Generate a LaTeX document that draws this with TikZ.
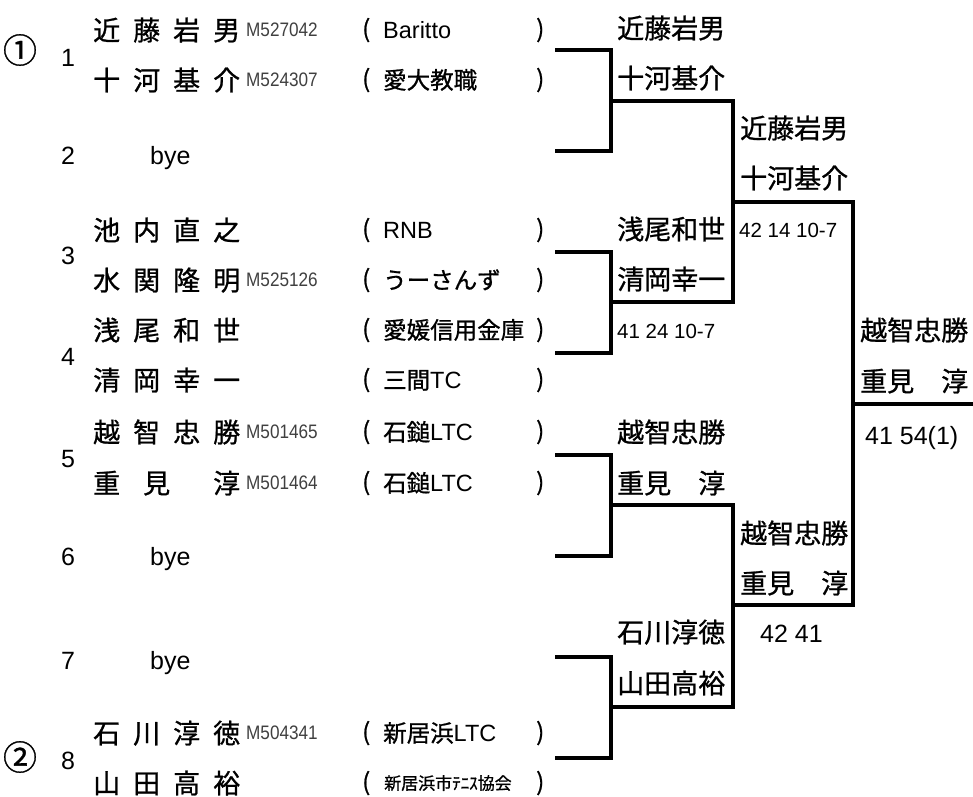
\documentclass[tikz,border=0pt]{standalone}
\usepackage{fontspec}
\setmainfont{Noto Sans CJK JP}[FakeBold=0.9]
\newfontfamily\latfont{Liberation Sans}
\newfontfamily\mnumfont[FakeStretch=0.88]{Liberation Sans}
\newcommand\nmbox[4]{\makebox[40pt][l]{#1}\makebox[40pt][l]{#2}\makebox[40pt][l]{#3}#4}
\tikzset{
  br/.style={line width=3.3pt, line cap=rect, line join=miter},
  nm/.style={anchor=base west, inner sep=0pt, yshift=-10.3pt, font=\fontsize{27}{27}\selectfont},
  mn/.style={anchor=base west, inner sep=0pt, yshift=-6.8pt, text=black!75, font=\mnumfont\fontsize{19.5}{19.5}\selectfont},
  club/.style={anchor=base west, inner sep=0pt, yshift=-8.8pt, font=\fontsize{23.5}{23.5}\selectfont},
  smclub/.style={anchor=base west, inner sep=0pt, yshift=-6.5pt, font=\fontsize{17}{17}\selectfont},
  par/.style={anchor=base west, inner sep=0pt, yshift=-7.5pt, font=\fontsize{24}{24}\selectfont},
  num/.style={anchor=base west, inner sep=0pt, yshift=-9pt, font=\latfont\fontsize{25}{25}\selectfont},
  circ/.style={anchor=center, inner sep=0pt, font=\fontsize{34}{34}\selectfont},
  score/.style={anchor=base west, inner sep=0pt, yshift=-7.3pt, font=\latfont\fontsize{20.5}{20.5}\selectfont},
  bigscore/.style={anchor=base west, inner sep=0pt, yshift=-9pt, font=\latfont\fontsize{25}{25}\selectfont},
}
\newcommand\player[8]{%
  \node[nm] (nm#1) at (93,#2) {\nmbox{#3}{#4}{#5}{#6}};
  \node[mn] (mn#1) at (246,#2) {#7};
  \node[par] (po#1) at (362,#2) {(};
  \node[club] (cl#1) at (383,#2) {#8};
  \node[par] (pc#1) at (536,#2) {)};
}
\begin{document}
\begin{tikzpicture}[x=1pt,y=-1pt]
\useasboundingbox (0,0) rectangle (973,796);

% seeds and draw numbers
\node[circ] (s1) at (20,50) {①};
\node[circ] (s2) at (20,757) {②};
\node[num] (d1) at (61,57) {1};
\node[num] (d2) at (61,155) {2};
\node[num] (d3) at (61,255) {3};
\node[num] (d4) at (61,356) {4};
\node[num] (d5) at (61,458) {5};
\node[num] (d6) at (61,556) {6};
\node[num] (d7) at (61,660) {7};
\node[num] (d8) at (61,760) {8};

% players
\player{1a}{30}{近}{藤}{岩}{男}{M527042}{{\latfont Baritto}}
\player{1b}{80}{十}{河}{基}{介}{M524307}{愛大教職}
\node[num] (bye2) at (150,155) {bye};
\player{3a}{230}{池}{内}{直}{之}{}{{\latfont RNB}}
\player{3b}{280}{水}{関}{隆}{明}{M525126}{うーさんず}
\player{4a}{330}{浅}{尾}{和}{世}{}{愛媛信用金庫}
\player{4b}{380}{清}{岡}{幸}{一}{}{三間{\latfont TC}}
\player{5a}{432}{越}{智}{忠}{勝}{M501465}{石鎚{\latfont LTC}}
\player{5b}{483}{重}{\hspace{10pt}見}{}{淳}{M501464}{石鎚{\latfont LTC}}
\node[num] (bye6) at (150,556) {bye};
\node[num] (bye7) at (150,660) {bye};
\player{8a}{733}{石}{川}{淳}{徳}{M504341}{新居浜{\latfont LTC}}
\node[nm] (nm8b) at (93,783) {\nmbox{山}{田}{高}{裕}};
\node[par] (po8b) at (362,783) {(};
\node[smclub] (cl8b) at (384,783) {新居浜市ﾃﾆｽ協会};
\node[par] (pc8b) at (536,783) {)};

% bracket coordinates
\coordinate (e1) at (557,50);
\coordinate (e2) at (557,151);
\coordinate (e3) at (557,252);
\coordinate (e4) at (557,353);
\coordinate (e5) at (557,455);
\coordinate (e6) at (557,556);
\coordinate (e7) at (557,657);
\coordinate (e8) at (557,758);
\coordinate (a1) at (611,101);
\coordinate (a2) at (611,302);
\coordinate (a3) at (611,505);
\coordinate (a4) at (611,707);
\coordinate (b1) at (733,202);
\coordinate (b2) at (733,605);
\coordinate (c1) at (853,404);
\coordinate (w) at (973,404);

\draw[br] (e1) -| (a1) |- (e2);
\draw[br] (e3) -| (a2) |- (e4);
\draw[br] (e5) -| (a3) |- (e6);
\draw[br] (e7) -| (a4) |- (e8);
\draw[br] (a1) -| (b1) |- (a2);
\draw[br] (a3) -| (b2) |- (a4);
\draw[br] (b1) -| (c1) |- (b2);
\draw[br] (c1) -- (w);

% round 1 winners
\node[nm] (r1a) at (617,28) {近藤岩男};
\node[nm] (r1b) at (617,78) {十河基介};
\node[nm] (r2a) at (617,229) {浅尾和世};
\node[nm] (r2b) at (617,279) {清岡幸一};
\node[score] (r2s) at (617,331) {41 24 10-7};
\node[nm] (r3a) at (617,432) {越智忠勝};
\node[nm] (r3b) at (617,483) {重見\hspace{27pt}淳};
\node[nm] (r4a) at (617,632) {石川淳徳};
\node[nm] (r4b) at (617,683) {山田高裕};

% round 2 winners
\node[nm] (q1a) at (740,128) {近藤岩男};
\node[nm] (q1b) at (740,178) {十河基介};
\node[score] (q1s) at (739,230) {42 14 10-7};
\node[nm] (q2a) at (740,533) {越智忠勝};
\node[nm] (q2b) at (740,583) {重見\hspace{27pt}淳};
\node[bigscore] (q2s) at (760,633) {42 41};

% final
\node[nm] (fa) at (860,330) {越智忠勝};
\node[nm] (fb) at (860,381) {重見\hspace{27pt}淳};
\node[bigscore] (fs) at (865,435) {41 54(1)};
\end{tikzpicture}
\end{document}
